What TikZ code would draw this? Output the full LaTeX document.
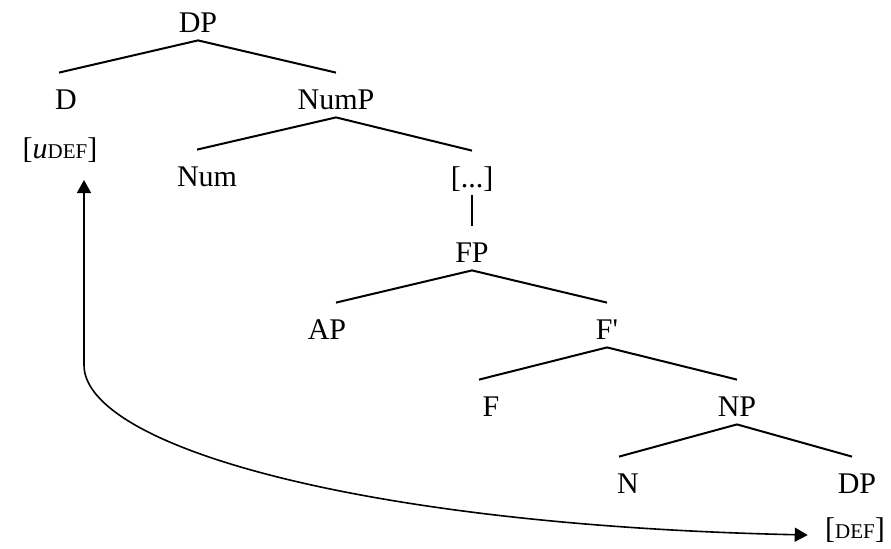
\documentclass[tikz,border=0pt]{standalone}
\usepackage{fontspec}
\setmainfont{Liberation Serif}
\usetikzlibrary{arrows.meta}
\tikzset{>={Triangle[length=6.5pt,width=7pt]},lbl/.style={inner sep=0pt,text height=18pt,text depth=4pt,anchor=base},br/.style={line width=1pt},move/.style={line width=.8pt,<->}}
\newcommand{\feat}[1]{{\fontsize{10.5}{12}\selectfont #1}}

\begin{document}
\begin{tikzpicture}[x=.5pt,y=-.5pt,font=\fontsize{15}{18}\selectfont]
\useasboundingbox (0,0) rectangle (891,548);
\node[lbl] (dp) at (198,32){DP};
\node[lbl] (d) at (66,109){D};\node[lbl] (nump) at (336,109){NumP};
\node[lbl] (udef) at (60,158){[\textit{u}\feat{DEF}]};
\node[lbl] (num) at (207,186){Num};\node[lbl] (dots) at (472,187){[...]};
\node[lbl] (fp) at (472,262){FP};
\node[lbl] (ap) at (327,339){AP};\node[lbl] (fbar) at (607,339){F\textquotesingle};
\node[lbl] (f) at (491,416){F};\node[lbl] (np) at (737,416){NP};
\node[lbl] (n) at (628,493){N};\node[lbl] (dpb) at (857,493){DP};
\node[lbl] (def) at (855,538){[\feat{DEF}]};
% branches
\draw[br] (dp.south)--([xshift=-3.5pt]d.north);\draw[br] (dp.south)--(nump.north);
\draw[br] (nump.south)--([xshift=-5pt]num.north);\draw[br] (nump.south)--(dots.north);
\draw[br] (dots.south)--(fp.north);
\draw[br] (fp.south)--([xshift=4.5pt]ap.north);\draw[br] (fp.south)--(fbar.north);
\draw[br] (fbar.south)--([xshift=-6pt]f.north);\draw[br] (fbar.south)--(np.north);
\draw[br] (np.south)--([xshift=-4.5pt]n.north);\draw[br] (np.south)--([xshift=-2.5pt]dpb.north);
% agreement arrow
\coordinate (up) at ([xshift=12pt,yshift=-11pt]udef.base);
\coordinate (rt) at ([xshift=-8.5pt,yshift=1.5pt]def.base west);
\draw[move] (up)--++(0,185) .. controls +(0,80) and +(-453,-10) .. (rt);
\end{tikzpicture}
\end{document}
